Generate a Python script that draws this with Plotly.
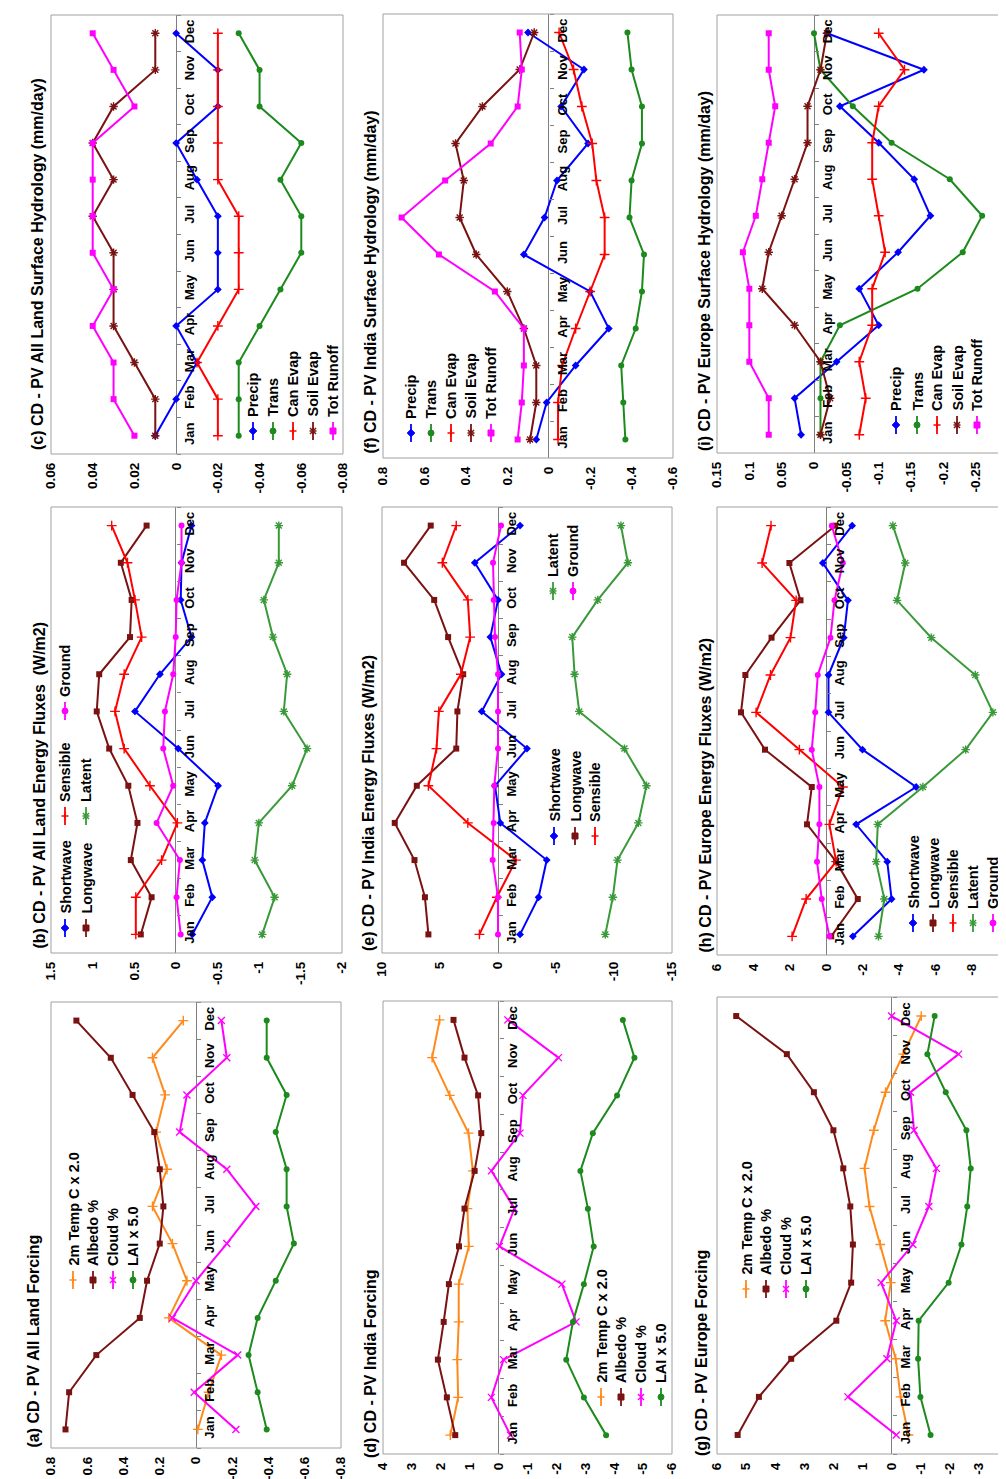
import plotly.graph_objects as go

W, H = 1006, 1479
MONTHS = ["Jan", "Feb", "Mar", "Apr", "May", "Jun", "Jul", "Aug", "Sep", "Oct", "Nov", "Dec"]

FORCING_NAMES = ["2m Temp C x 2.0", "Albedo %", "Cloud %", "LAI x 5.0"]
ENERGY_NAMES = ["Shortwave", "Longwave", "Sensible", "Latent", "Ground"]
HYDRO_NAMES = ["Precip", "Trans", "Can Evap", "Soil Evap", "Tot Runoff"]

# (a) All Land Forcing
a_temp = [-0.01, -0.07, -0.14, 0.15, 0.05, 0.13, 0.24, 0.16, 0.22, 0.17, 0.24, 0.07]
a_albedo = [0.72, 0.70, 0.55, 0.31, 0.27, 0.20, 0.18, 0.20, 0.23, 0.35, 0.47, 0.66]
a_cloud = [-0.22, 0.01, -0.23, 0.13, 0.00, -0.17, -0.33, -0.17, 0.09, 0.05, -0.17, -0.14]
a_lai = [-0.39, -0.34, -0.29, -0.34, -0.44, -0.54, -0.50, -0.50, -0.44, -0.50, -0.39, -0.39]
# (b) All Land Energy Fluxes
b_short = [-0.20, -0.44, -0.32, -0.35, -0.51, -0.03, 0.49, 0.19, -0.19, -0.06, -0.07, -0.19]
b_long = [0.42, 0.29, 0.54, 0.46, 0.57, 0.80, 0.95, 0.92, 0.55, 0.53, 0.66, 0.35]
b_sens = [0.48, 0.48, 0.17, -0.02, 0.31, 0.62, 0.73, 0.62, 0.41, 0.49, 0.58, 0.77]
b_lat = [-1.04, -1.19, -0.95, -1.00, -1.40, -1.58, -1.30, -1.34, -1.17, -1.06, -1.24, -1.24]
b_grnd = [-0.06, -0.01, -0.05, 0.23, 0.03, 0.15, 0.13, 0.03, 0.00, -0.01, -0.07, -0.07]
# (c) All Land Surface Hydrology
c_prec = [0.01, 0.00, -0.01, 0.00, -0.02, -0.02, -0.02, -0.01, 0.00, -0.02, -0.02, 0.00]
c_trans = [-0.03, -0.03, -0.03, -0.04, -0.05, -0.06, -0.06, -0.05, -0.06, -0.04, -0.04, -0.03]
c_can = [-0.02, -0.02, -0.01, -0.02, -0.03, -0.03, -0.03, -0.02, -0.02, -0.02, -0.02, -0.02]
c_soil = [0.01, 0.01, 0.02, 0.03, 0.03, 0.03, 0.04, 0.03, 0.04, 0.03, 0.01, 0.01]
c_runoff = [0.02, 0.03, 0.03, 0.04, 0.03, 0.04, 0.04, 0.04, 0.04, 0.02, 0.03, 0.04]
# (d) India Forcing
d_temp = [1.67, 1.40, 1.43, 1.38, 1.38, 1.03, 1.08, 0.89, 1.04, 1.69, 2.30, 2.04]
d_albedo = [1.50, 1.79, 2.10, 1.90, 1.72, 1.37, 1.18, 0.83, 0.60, 0.71, 1.18, 1.56]
d_cloud = [-0.41, 0.25, -0.17, -2.68, -2.19, -0.03, -0.55, 0.25, -0.74, -0.84, -2.07, -0.32]
d_lai = [-3.72, -2.95, -2.34, -2.57, -2.95, -3.29, -3.09, -2.83, -3.26, -4.10, -4.70, -4.30]
# (e) India Energy Fluxes
e_short = [-1.9, -3.5, -4.2, -0.2, 0.26, -2.5, 1.4, -0.3, 0.66, 0.0, 2.0, -1.9]
e_long = [6.0, 6.3, 7.2, 8.9, 7.0, 3.6, 3.5, 3.0, 4.3, 5.5, 8.1, 5.8]
e_sens = [1.6, 0.1, -1.55, 2.6, 6.0, 5.3, 5.1, 3.2, 2.4, 2.6, 4.8, 3.6]
e_lat = [-9.25, -9.9, -10.3, -12.1, -12.8, -10.9, -7.0, -6.6, -6.4, -8.6, -11.2, -10.6]
e_grnd = [0.0, 0.0, 0.46, 0.37, 0.32, 0.0, 0.0, 0.0, 0.26, 0.37, 0.43, -0.26]
# (f) India Surface Hydrology
f_prec = [0.06, 0.01, -0.13, -0.29, -0.20, 0.12, 0.02, -0.04, -0.19, -0.06, -0.17, 0.10]
f_trans = [-0.37, -0.36, -0.35, -0.42, -0.45, -0.46, -0.39, -0.40, -0.45, -0.45, -0.40, -0.38]
f_can = [-0.045, -0.045, -0.065, -0.13, -0.20, -0.27, -0.27, -0.23, -0.21, -0.16, -0.12, -0.05]
f_soil = [0.09, 0.06, 0.06, 0.12, 0.20, 0.35, 0.43, 0.41, 0.45, 0.32, 0.14, 0.07]
f_runoff = [0.15, 0.13, 0.12, 0.12, 0.26, 0.53, 0.71, 0.50, 0.28, 0.15, 0.13, 0.14]
# (g) Europe Forcing
g_temp = [-0.58, -0.31, -0.14, 0.22, 0.03, 0.39, 0.76, 0.93, 0.61, 0.21, -0.40, -1.02]
g_albedo = [5.29, 4.56, 3.45, 1.90, 1.39, 1.33, 1.42, 1.66, 2.00, 2.67, 3.60, 5.34]
g_cloud = [-0.16, 1.50, 0.16, -0.16, 0.36, -0.73, -1.28, -1.54, -0.77, -0.65, -2.30, 0.00]
g_lai = [-1.34, -0.99, -0.91, -0.93, -1.96, -2.40, -2.60, -2.72, -2.57, -1.86, -1.23, -1.48]
# (h) Europe Energy Fluxes
h_short = [-1.47, -3.60, -3.36, -1.65, -4.95, -2.00, -0.13, -0.13, -0.97, -1.20, 0.18, -1.43]
h_long = [-0.28, -1.74, -0.55, 1.05, 0.79, 3.36, 4.68, 4.44, 3.00, 1.41, 2.02, -0.50]
h_sens = [1.87, 1.10, -0.55, -0.18, -0.92, 1.47, 3.85, 3.06, 1.96, 1.65, 3.52, 3.03]
h_lat = [-2.88, -3.20, -2.75, -2.84, -5.32, -7.67, -9.17, -8.20, -5.78, -3.90, -4.35, -3.67]
h_grnd = [-0.18, 0.24, 0.50, 0.37, 0.37, 0.79, 0.60, 0.46, -0.24, -0.46, -0.92, -0.31]
# (i) Europe Surface Hydrology
i_prec = [0.02, 0.03, -0.035, -0.10, -0.07, -0.13, -0.18, -0.155, -0.10, -0.04, -0.17, -0.02]
i_trans = [-0.01, -0.01, -0.01, -0.04, -0.16, -0.23, -0.26, -0.21, -0.12, -0.06, -0.01, 0.00]
i_can = [-0.07, -0.08, -0.07, -0.09, -0.09, -0.11, -0.10, -0.09, -0.09, -0.10, -0.14, -0.10]
i_soil = [-0.01, -0.025, -0.01, 0.03, 0.08, 0.07, 0.05, 0.03, 0.01, 0.01, -0.01, -0.02]
i_runoff = [0.07, 0.07, 0.10, 0.10, 0.10, 0.11, 0.09, 0.08, 0.07, 0.06, 0.07, 0.07]

# value-axis tick labels
a_ticks = [0.8, 0.6, 0.4, 0.2, 0, -0.2, -0.4, -0.6, -0.8]
b_ticks = [1.5, 1, 0.5, 0, -0.5, -1, -1.5, -2]
c_ticks = [0.06, 0.04, 0.02, 0, -0.02, -0.04, -0.06, -0.08]
d_ticks = [4, 3, 2, 1, 0, -1, -2, -3, -4, -5, -6]
e_ticks = [10, 5, 0, -5, -10, -15]
f_ticks = [0.8, 0.6, 0.4, 0.2, 0, -0.2, -0.4, -0.6]
g_ticks = [6, 5, 4, 3, 2, 1, 0, -1, -2, -3, -4]
h_ticks = [6, 4, 2, 0, -2, -4, -6, -8, -10]
i_ticks = [0.15, 0.1, 0.05, 0, -0.05, -0.1, -0.15, -0.2, -0.25, -0.3]

# ---- styles ----
ORANGE, BROWN, MAGENTA = "#ff8a1c", "#7a1212", "#ff00ff"
GREEN, LGREEN, BLUE, RED = "#1c8a1c", "#3a9a3a", "#0000ff", "#ff0000"
FORCING_STYLE = [(ORANGE, "cross-thin"), (BROWN, "square"), (MAGENTA, "x-thin"), (GREEN, "circle")]
ENERGY_STYLE = [(BLUE, "diamond"), (BROWN, "square"), (RED, "cross-thin"), (LGREEN, "asterisk"), (MAGENTA, "circle")]
HYDRO_STYLE = [(BLUE, "diamond"), (GREEN, "circle"), (RED, "cross-thin"), (BROWN, "asterisk"), (MAGENTA, "square")]

FONT = "Liberation Sans, Arial, sans-serif"

panels = [
    dict(title="(c) CD - PV All Land Surface Hydrology (mm/day)", names=HYDRO_NAMES, style=HYDRO_STYLE,
         series=[c_prec, c_trans, c_can, c_soil, c_runoff], ticks=c_ticks,
         box=(43, 335, 7, 446), tpos=(29, 444),
         legend=[(245, 423), (265, 423), (285, 423), (305, 423), (325, 423)]),
    dict(title="(f) CD - PV India Surface Hydrology (mm/day)", names=HYDRO_NAMES, style=HYDRO_STYLE,
         series=[f_prec, f_trans, f_can, f_soil, f_runoff], ticks=f_ticks,
         box=(375, 665, 6, 450), tpos=(362, 448),
         legend=[(403, 425), (423, 425), (443, 425), (463, 425), (483, 425)]),
    dict(title="(i) CD - PV Europe Surface Hydrology (mm/day)", names=HYDRO_NAMES, style=HYDRO_STYLE,
         series=[i_prec, i_trans, i_can, i_soil, i_runoff], ticks=i_ticks,
         box=(709, 1000, 7, 445), tpos=(697, 445),
         legend=[(888, 417), (909, 417), (929, 417), (949, 417), (969, 417)]),
    dict(title="(b) CD - PV All Land Energy Fluxes  (W/m2)", names=ENERGY_NAMES, style=ENERGY_STYLE,
         series=[b_short, b_long, b_sens, b_lat, b_grnd], ticks=b_ticks,
         box=(43, 334, 499, 945), tpos=(31, 943),
         legend=[(57, 920), (78, 920), (57, 808), (78, 808), (57, 703)]),
    dict(title="(e) CD - PV India Energy Fluxes (W/m2)", names=ENERGY_NAMES, style=ENERGY_STYLE,
         series=[e_short, e_long, e_sens, e_lat, e_grnd], ticks=e_ticks,
         box=(374, 664, 499, 945), tpos=(360, 945),
         legend=[(546, 828), (567, 828), (587, 828), (545, 583), (565, 583)]),
    dict(title="(h) CD - PV Europe Energy Fluxes (W/m2)", names=ENERGY_NAMES, style=ENERGY_STYLE,
         series=[h_short, h_long, h_sens, h_lat, h_grnd], ticks=h_ticks,
         box=(709, 1000, 499, 947), tpos=(697, 947),
         legend=[(905, 915), (925, 915), (945, 915), (965, 915), (985, 915)]),
    dict(title="(a) CD - PV All Land Forcing", names=FORCING_NAMES, style=FORCING_STYLE,
         series=[a_temp, a_albedo, a_cloud, a_lai], ticks=a_ticks,
         box=(43, 333, 994, 1440), tpos=(25, 1442),
         legend=[(65, 1272), (85, 1272), (105, 1272), (125, 1272)]),
    dict(title="(d) CD - PV India Forcing", names=FORCING_NAMES, style=FORCING_STYLE,
         series=[d_temp, d_albedo, d_cloud, d_lai], ticks=d_ticks,
         box=(375, 664, 993, 1446), tpos=(362, 1452),
         legend=[(593, 1389), (613, 1389), (633, 1389), (653, 1389)]),
    dict(title="(g) CD - PV Europe Forcing", names=FORCING_NAMES, style=FORCING_STYLE,
         series=[g_temp, g_albedo, g_cloud, g_lai], ticks=g_ticks,
         box=(709, 1000, 989, 1446), tpos=(693, 1450),
         legend=[(738, 1281), (758, 1281), (778, 1281), (798, 1281)]),
]


def px(x):
    return x / W


def py(y):
    return 1 - y / H


def fmt(v):
    return ("%g" % v)


def marker_shapes(sym, cx, cy, color):
    r = 3.0
    shapes = []
    if sym == "circle":
        shapes.append(dict(type="circle", xref="paper", yref="paper", x0=px(cx - r), x1=px(cx + r),
                           y0=py(cy + r), y1=py(cy - r), fillcolor=color, line=dict(color=color, width=1)))
        return shapes
    if sym == "square":
        shapes.append(dict(type="rect", xref="paper", yref="paper", x0=px(cx - r), x1=px(cx + r),
                           y0=py(cy + r), y1=py(cy - r), fillcolor=color, line=dict(color=color, width=1)))
        return shapes
    if sym == "diamond":
        pts = [(cx, cy - 3.8), (cx + 3.8, cy), (cx, cy + 3.8), (cx - 3.8, cy)]
        path = "M " + " L ".join("%.5f,%.5f" % (px(a), py(b)) for a, b in pts) + " Z"
        shapes.append(dict(type="path", xref="paper", yref="paper", path=path, fillcolor=color,
                           line=dict(color=color, width=1)))
        return shapes
    segs = []
    if sym in ("cross-thin", "asterisk"):
        segs += [((cx - 3.5, cy), (cx + 3.5, cy)), ((cx, cy - 3.5), (cx, cy + 3.5))]
    if sym in ("x-thin", "asterisk"):
        segs += [((cx - 3, cy - 3), (cx + 3, cy + 3)), ((cx - 3, cy + 3), (cx + 3, cy - 3))]
    for (a, b), (c, d) in segs:
        shapes.append(dict(type="line", xref="paper", yref="paper", x0=px(a), y0=py(b), x1=px(c), y1=py(d),
                           line=dict(color=color, width=1.5)))
    return shapes


fig = go.Figure()
layout = dict(width=W, height=H, margin=dict(l=0, r=0, t=0, b=0), showlegend=False,
              paper_bgcolor="white", plot_bgcolor="white", font=dict(family=FONT, color="black"))
shapes = []
annotations = []

for k, p in enumerate(panels, start=1):
    xs = "" if k == 1 else str(k)
    x0, x1, y0, y1 = p["box"]
    ticks = p["ticks"]
    xmax, xmin = ticks[0], ticks[-1]
    dom_x = [px(x0), px(x1)]
    zero_pos = dom_x[0] + (xmax - 0) / (xmax - xmin) * (dom_x[1] - dom_x[0])

    for vals, name, (color, sym) in zip(p["series"], p["names"], p["style"]):
        thin = sym in ("cross-thin", "x-thin", "asterisk")
        fig.add_trace(go.Scatter(
            x=vals, y=MONTHS, name=name, mode="lines+markers",
            xaxis="x" + xs, yaxis="y" + xs,
            line=dict(color=color, width=2),
            marker=dict(symbol=sym, size=7 if thin else 6, color=color,
                        line=dict(color=color, width=1.4 if thin else 0)),
        ))

    layout["xaxis" + xs] = dict(
        domain=dom_x, range=[xmax, xmin], anchor="y" + xs,
        tickvals=ticks, ticktext=[fmt(v) for v in ticks], tickangle=-90,
        tickfont=dict(size=13.5, family=FONT, color="black", weight="bold"),
        showgrid=False, zeroline=True, zerolinecolor="#7f7f7f", zerolinewidth=1,
        showline=False, ticks="", ticklabelstandoff=5, automargin=False,
    )
    layout["yaxis" + xs] = dict(
        domain=[py(y1), py(y0)], type="category", categoryorder="array", categoryarray=MONTHS,
        range=[-0.5, 11.5], anchor="free", position=zero_pos, side="right",
        tickangle=-90, ticks="outside", tickson="boundaries", ticklen=4, tickcolor="#7f7f7f",
        tickfont=dict(size=13, family=FONT, color="black", weight="bold"),
        showgrid=False, zeroline=False, showline=False, ticklabelstandoff=4, automargin=False,
    )
    shapes.append(dict(type="rect", xref="x" + xs + " domain", yref="y" + xs + " domain",
                       x0=0, x1=1, y0=0, y1=1, line=dict(color="#a0a0a0", width=1), layer="above"))

    tx, tb = p["tpos"]
    annotations.append(dict(text=p["title"], x=px(tx), y=py(tb), xref="paper", yref="paper",
                            xanchor="center", yanchor="bottom", textangle=-90, showarrow=False,
                            font=dict(size=16, family=FONT, color="black", weight="bold")))

    for name, (color, sym), (lx, ly) in zip(p["names"], p["style"], p["legend"]):
        shapes.append(dict(type="line", xref="paper", yref="paper", x0=px(lx), x1=px(lx),
                           y0=py(ly - 9), y1=py(ly + 9), line=dict(color=color, width=1.8)))
        shapes += marker_shapes(sym, lx, ly, color)
        annotations.append(dict(text=name, x=px(lx), y=py(ly - 12), xref="paper", yref="paper",
                                xanchor="center", yanchor="bottom", textangle=-90, showarrow=False,
                                font=dict(size=14.5, family=FONT, color="black", weight="bold")))

layout["shapes"] = shapes
layout["annotations"] = annotations
fig.update_layout(**layout)
fig.write_html("out.html")
